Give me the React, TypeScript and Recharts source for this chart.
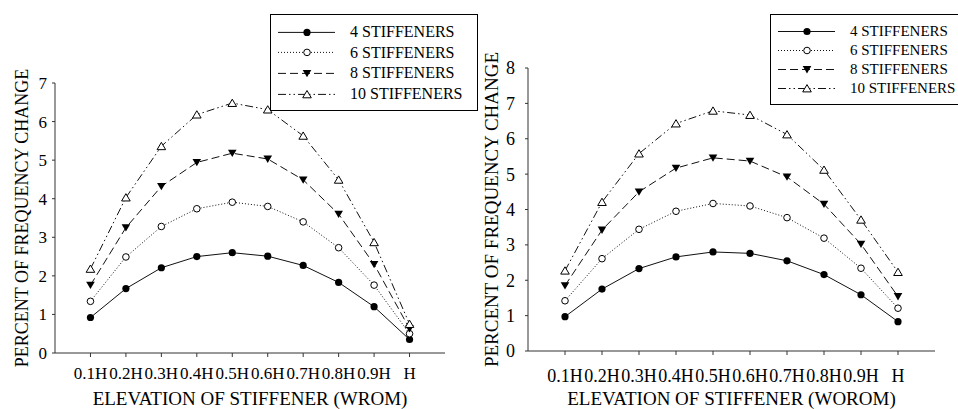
import { Legend, Line, LineChart, XAxis, YAxis } from "recharts";

// elevation of the stiffener, as a fraction of H
const ELEVATIONS = [0.1, 0.2, 0.3, 0.4, 0.5, 0.6, 0.7, 0.8, 0.9, 1.0];
const WROM_Y_TICKS = [0, 1, 2, 3, 4, 5, 6, 7];
const WOROM_Y_TICKS = [0, 1, 2, 3, 4, 5, 6, 7, 8];

// WROM
const WROM_4 = [0.92, 1.67, 2.21, 2.5, 2.6, 2.51, 2.27, 1.83, 1.2, 0.35];
const WROM_6 = [1.34, 2.49, 3.28, 3.74, 3.91, 3.8, 3.4, 2.73, 1.76, 0.5];
const WROM_8 = [1.76, 3.25, 4.32, 4.94, 5.18, 5.03, 4.49, 3.6, 2.3, 0.63];
const WROM_10 = [2.18, 4.03, 5.36, 6.18, 6.48, 6.31, 5.63, 4.49, 2.87, 0.75];

// WOROM
const WOROM_4 = [0.97, 1.75, 2.33, 2.66, 2.8, 2.76, 2.55, 2.16, 1.59, 0.83];
const WOROM_6 = [1.42, 2.61, 3.44, 3.95, 4.17, 4.1, 3.77, 3.19, 2.34, 1.21];
const WOROM_8 = [1.85, 3.42, 4.5, 5.17, 5.46, 5.37, 4.92, 4.15, 3.02, 1.54];
const WOROM_10 = [2.27, 4.21, 5.58, 6.43, 6.79, 6.67, 6.12, 5.12, 3.71, 2.23];

const FONT = "Liberation Serif, Tinos, Times New Roman, DejaVu Serif, serif";
const INK = "#111";

type MarkerKind = "dot" | "ring" | "down" | "up";

const SERIES: { key: string; label: string; dash?: string; marker: MarkerKind }[] = [
  { key: "s4", label: "4 STIFFENERS", marker: "dot" },
  { key: "s6", label: "6 STIFFENERS", dash: "1 2", marker: "ring" },
  { key: "s8", label: "8 STIFFENERS", dash: "8 4", marker: "down" },
  { key: "s10", label: "10 STIFFENERS", dash: "8 3 1.5 3 1.5 3", marker: "up" },
];

function buildRows(s4: number[], s6: number[], s8: number[], s10: number[]) {
  return ELEVATIONS.map((x, i) => ({ x, s4: s4[i], s6: s6[i], s8: s8[i], s10: s10[i] }));
}

const wromRows = buildRows(WROM_4, WROM_6, WROM_8, WROM_10);
const woromRows = buildRows(WOROM_4, WOROM_6, WOROM_8, WOROM_10);

function Marker({ kind, cx, cy }: { kind: MarkerKind; cx: number; cy: number }) {
  if (kind === "dot") return <circle cx={cx} cy={cy} r={3.6} fill="#000" />;
  if (kind === "ring")
    return <circle cx={cx} cy={cy} r={3.3} fill="#fff" stroke="#000" strokeWidth={1} />;
  if (kind === "down")
    return (
      <polygon
        points={`${cx - 4.3},${cy - 3.4} ${cx + 4.3},${cy - 3.4} ${cx},${cy + 3.9}`}
        fill="#000"
      />
    );
  return (
    <polygon
      points={`${cx - 4.3},${cy + 3.4} ${cx + 4.3},${cy + 3.4} ${cx},${cy - 3.9}`}
      fill="#fff"
      stroke="#000"
      strokeWidth={1}
    />
  );
}

const dotFor = (kind: MarkerKind, key: string) => (p: any) =>
  p.cx == null ? (
    <g key={`${key}-${p.index}`} />
  ) : (
    <g key={`${key}-${p.index}`}>
      <Marker kind={kind} cx={p.cx} cy={p.cy} />
    </g>
  );

function KeyBox({ rowH, fontSize, padTop }: { rowH: number; fontSize: number; padTop: number }) {
  return (
    <div
      style={{
        border: "1px solid #000",
        background: "#fff",
        paddingTop: padTop,
        paddingBottom: padTop - 1,
        fontFamily: FONT,
        color: "#000",
      }}
    >
      {SERIES.map((s) => (
        <div key={s.key} style={{ display: "flex", alignItems: "center", height: rowH }}>
          <svg width={70} height={rowH} style={{ flex: "none" }}>
            <line
              x1={7}
              x2={64}
              y1={rowH / 2}
              y2={rowH / 2}
              stroke={INK}
              strokeWidth={1}
              strokeDasharray={s.dash}
            />
            <Marker kind={s.marker} cx={36} cy={rowH / 2} />
          </svg>
          <span style={{ marginLeft: 9, fontSize, whiteSpace: "nowrap", lineHeight: 1 }}>
            {s.label}
          </span>
        </div>
      ))}
    </div>
  );
}

const fmtX = (v: number) => (v === 1 ? "H" : `${v}H`);

type PanelProps = {
  rows: ReturnType<typeof buildRows>;
  yTicks: number[];
  yMax: number;
  title: string;
  left: number;
  width: number;
  top: number;
  plotBottom: number;
  yAxisW: number;
  rightPad: number;
  tickFont: number;
  xTickMargin: number;
  yTickMargin: number;
  yTitleX: number;
  yTitleFont: number;
  xTitleFont: number;
  xTitleBase: number;
  legendLeft: number;
  legendTop: number;
  legendRow: number;
  legendFont: number;
  legendPad: number;
};

function Panel(p: PanelProps) {
  const height = 409;
  return (
    <div style={{ position: "absolute", left: p.left, top: 0 }}>
      <LineChart
        width={p.width}
        height={height}
        data={p.rows}
        margin={{ top: p.top, right: p.rightPad, bottom: 0, left: 0 }}
        style={{ fontFamily: FONT }}
      >
        <XAxis
          type="number"
          dataKey="x"
          domain={[0, 1.1]}
          ticks={ELEVATIONS}
          tickFormatter={fmtX}
          interval={0}
          height={height - p.plotBottom}
          tickSize={4}
          tickMargin={p.xTickMargin}
          stroke="#333"
          tick={{ fontSize: p.tickFont, fill: "#000", style: { fontFamily: FONT } }}
          label={{
            content: (lp: any) => {
              const vb = lp.viewBox;
              return (
                <text
                  x={vb.x + vb.width / 2}
                  y={p.xTitleBase}
                  textAnchor="middle"
                  fontSize={p.xTitleFont}
                  style={{ fontFamily: FONT }}
                  fill="#000"
                >
                  {p.title}
                </text>
              );
            },
          }}
        />
        <YAxis
          type="number"
          domain={[0, p.yMax]}
          ticks={p.yTicks}
          interval={0}
          width={p.yAxisW}
          tickSize={3}
          tickMargin={p.yTickMargin}
          stroke="#333"
          tick={{ fontSize: p.tickFont, fill: "#000", style: { fontFamily: FONT } }}
          label={{
            content: (lp: any) => {
              const vb = lp.viewBox;
              const cy = vb.y + vb.height / 2;
              return (
                <text
                  x={p.yTitleX}
                  y={cy}
                  transform={`rotate(-90 ${p.yTitleX} ${cy})`}
                  textAnchor="middle"
                  fontSize={p.yTitleFont}
                  style={{ fontFamily: FONT }}
                  fill="#000"
                >
                  PERCENT OF FREQUENCY CHANGE
                </text>
              );
            },
          }}
        />
        {SERIES.map((s) => (
          <Line
            key={s.key}
            type="linear"
            dataKey={s.key}
            name={s.label}
            stroke={INK}
            strokeWidth={1}
            strokeDasharray={s.dash}
            dot={dotFor(s.marker, s.key)}
            activeDot={false}
            isAnimationActive={false}
          />
        ))}
        <Legend
          layout="vertical"
          align="center"
          verticalAlign="middle"
          wrapperStyle={{ top: p.legendTop, left: p.legendLeft, width: 208 }}
          content={() => (
            <KeyBox rowH={p.legendRow} fontSize={p.legendFont} padTop={p.legendPad} />
          )}
        />
      </LineChart>
    </div>
  );
}

export default function App() {
  return (
    <div
      style={{
        position: "absolute",
        left: 0,
        top: 0,
        width: 958,
        height: 409,
        overflow: "hidden",
        background: "#fff",
        fontFamily: FONT,
      }}
    >
      <Panel
        rows={wromRows}
        yTicks={WROM_Y_TICKS}
        yMax={7}
        title="ELEVATION OF STIFFENER (WROM)"
        left={0}
        width={479}
        top={83}
        plotBottom={353}
        yAxisW={55}
        rightPad={34}
        tickFont={17}
        xTickMargin={10}
        yTickMargin={5}
        yTitleX={28}
        yTitleFont={18}
        xTitleFont={19}
        xTitleBase={405}
        legendLeft={270}
        legendTop={14}
        legendRow={20.8}
        legendFont={16}
        legendPad={6.5}
      />
      <Panel
        rows={woromRows}
        yTicks={WOROM_Y_TICKS}
        yMax={8}
        title="ELEVATION OF STIFFENER (WOROM)"
        left={479}
        width={479}
        top={68}
        plotBottom={351}
        yAxisW={49}
        rightPad={23}
        tickFont={18}
        xTickMargin={14}
        yTickMargin={10}
        yTitleX={19}
        yTitleFont={19}
        xTitleFont={19}
        xTitleBase={405}
        legendLeft={291}
        legendTop={14}
        legendRow={19}
        legendFont={15}
        legendPad={7}
      />
    </div>
  );
}
